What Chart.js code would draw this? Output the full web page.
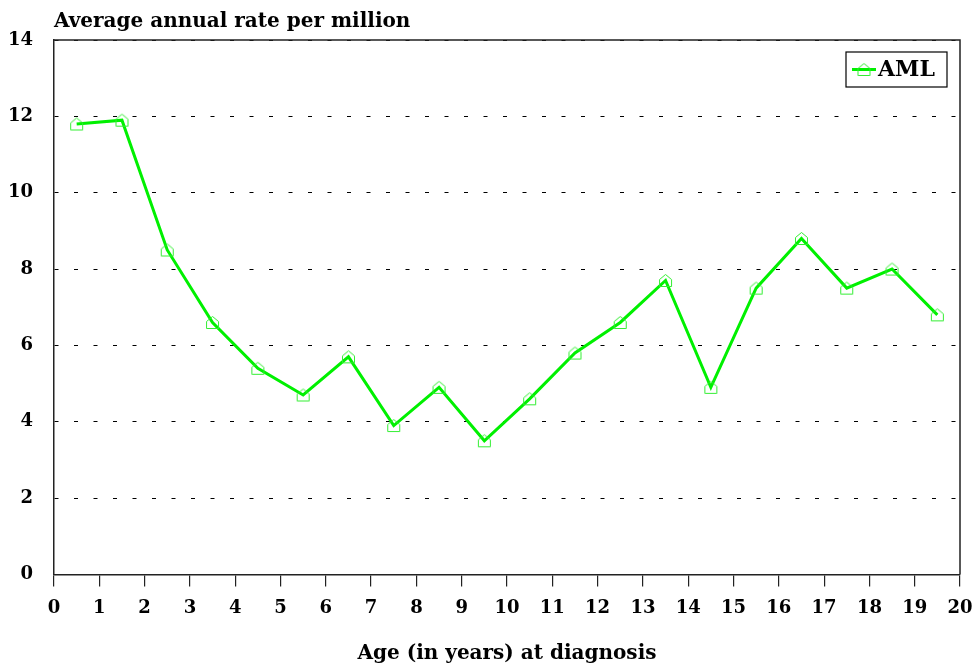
<!DOCTYPE html>
<html>
<head>
<meta charset="utf-8">
<script src="https://cdn.jsdelivr.net/npm/chart.js@4.4.0/dist/chart.umd.min.js"></script>
<style>
  body { margin: 0; background: #fff; }
  #wrap { width: 972px; height: 666px; }
</style>
</head>
<body>
<div id="wrap"><canvas id="canvas" width="972" height="666"></canvas></div>
<script>
// data
const ages = [0.5, 1.5, 2.5, 3.5, 4.5, 5.5, 6.5, 7.5, 8.5, 9.5, 10.5, 11.5, 12.5, 13.5, 14.5, 15.5, 16.5, 17.5, 18.5, 19.5];
const amlRates = [11.8, 11.9, 8.5, 6.6, 5.4, 4.7, 5.7, 3.9, 4.9, 3.5, 4.6, 5.8, 6.6, 7.7, 4.9, 7.5, 8.8, 7.5, 8.0, 6.8];
const seriesName = "AML";
const yTitle = "Average annual rate per million";
const xTitle = "Age (in years) at diagnosis";

const FONT = "'DejaVu Serif', serif";
const GREEN = "#00f000";
const AXIS = "#222";

// little hollow "house" marker
function houseMarker() {
    const c = document.createElement("canvas");
    c.width = 15;
    c.height = 15;
    const g = c.getContext("2d");
    g.strokeStyle = "#33ee33";
    g.lineWidth = 1;
    g.beginPath();
    g.moveTo(1.5, 6.5);
    g.lineTo(7.5, 1.5);
    g.lineTo(13.5, 6.5);
    g.lineTo(13.5, 13.5);
    g.lineTo(1.5, 13.5);
    g.closePath();
    g.stroke();
    return c;
}
const marker = houseMarker();

// top + right border of the plot
const frame = {
    id: "frame",
    afterDraw(chart) {
        const a = chart.chartArea;
        const ctx = chart.ctx;
        ctx.save();
        ctx.strokeStyle = AXIS;
        ctx.lineWidth = 1.5;
        ctx.beginPath();
        ctx.moveTo(a.left, a.top);
        ctx.lineTo(a.right, a.top);
        ctx.lineTo(a.right, a.bottom);
        ctx.stroke();
        ctx.restore();
    }
};

// boxed legend in the top right corner of the plot
const boxLegend = {
    id: "boxLegend",
    afterDraw(chart) {
        const a = chart.chartArea;
        const ctx = chart.ctx;
        const ds = chart.data.datasets[0];
        const w = 101, h = 35;
        const x = a.right - 13 - w, y = a.top + 12;
        ctx.save();
        ctx.fillStyle = "#fff";
        ctx.fillRect(x, y, w, h);
        ctx.strokeStyle = "#000";
        ctx.lineWidth = 1.2;
        ctx.strokeRect(x, y, w, h);
        const cy = y + h / 2;
        ctx.strokeStyle = ds.borderColor;
        ctx.lineWidth = 3;
        ctx.beginPath();
        ctx.moveTo(x + 6, cy);
        ctx.lineTo(x + 30, cy);
        ctx.stroke();
        ctx.drawImage(marker, x + 18 - marker.width / 2, cy - marker.height / 2);
        ctx.fillStyle = "#000";
        ctx.font = "bold 22px " + FONT;
        ctx.textBaseline = "middle";
        ctx.fillText(ds.label, x + 32, cy + 1);
        ctx.restore();
    }
};

const config = {
    type: "line",
    data: {
        datasets: [
            {
                label: seriesName,
                data: ages.map((a, i) => ({ x: a, y: amlRates[i] })),
                borderColor: GREEN,
                backgroundColor: GREEN,
                borderWidth: 3,
                tension: 0,
                pointStyle: marker,
                pointRadius: 7,
            },
        ],
    },
    options: {
        responsive: false,
        animation: false,
        devicePixelRatio: 1,
        layout: { padding: { left: 8, right: 2, top: 0, bottom: 0 } },
        plugins: {
            legend: { display: false },
            tooltip: { enabled: false },
            title: {
                display: true,
                text: yTitle,
                align: "start",
                fullSize: false,
                color: "#000",
                font: { family: FONT, size: 20, weight: "bold" },
                padding: { top: 10, bottom: 6 },
            },
        },
        scales: {
            x: {
                type: "linear",
                min: 0,
                max: 20,
                afterFit(scale) {
                    scale.paddingRight = 12;
                },
                ticks: {
                    stepSize: 1,
                    color: "#000",
                    padding: 11,
                    font: { family: FONT, size: 18, weight: "bold" },
                },
                grid: {
                    drawOnChartArea: false,
                    drawTicks: true,
                    tickLength: 12,
                    color: AXIS,
                    lineWidth: 1.2,
                },
                border: { color: AXIS, width: 1.5 },
                title: {
                    display: true,
                    text: xTitle,
                    color: "#000",
                    font: { family: FONT, size: 20, weight: "bold" },
                    padding: { top: 12, bottom: 0 },
                },
            },
            y: {
                min: 0,
                max: 14,
                afterFit(scale) {
                    scale.width = 46;
                },
                ticks: {
                    stepSize: 2,
                    color: "#000",
                    padding: 21,
                    font: { family: FONT, size: 18, weight: "bold" },
                },
                grid: {
                    drawTicks: false,
                    color: "#000",
                    lineWidth: 1,
                },
                border: { color: AXIS, width: 1.5, dash: [4, 15.5] },
            },
        },
    },
    plugins: [frame, boxLegend],
};

const canvas = document.getElementById("canvas").getContext("2d");
const chart = new Chart(canvas, config);
</script>
</body>
</html>
